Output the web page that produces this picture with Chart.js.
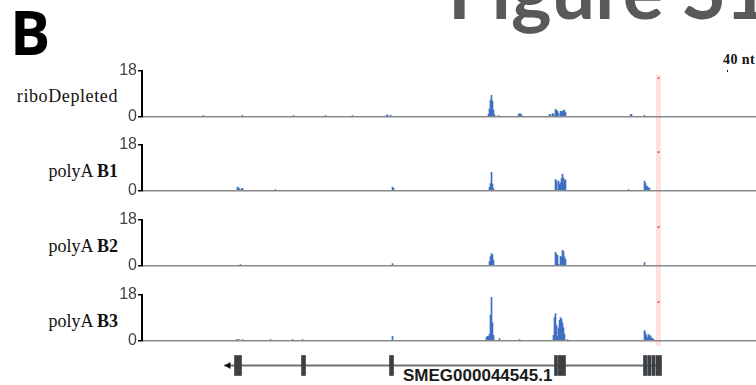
<!DOCTYPE html>
<html>
<head>
<meta charset="utf-8">
<script src="https://cdn.jsdelivr.net/npm/chart.js@4.4.1/dist/chart.umd.min.js"></script>
<style>
  html, body { margin: 0; padding: 0; background: #fff; }
  #fig { position: relative; width: 756px; height: 385px; overflow: hidden; }
  #fig canvas { position: absolute; left: 100px; }
  .t { position: absolute; white-space: nowrap; }
  .lbl { right: 638px; font: 18px 'Liberation Serif', serif; color: #111; line-height: 20px; text-align: right; }
</style>
</head>
<body>
<div id="fig">
  <div class="t" style="left:10px;top:2px;font:700 60px 'Open Sans',sans-serif;line-height:1;color:#000">B</div>
  <div class="t" style="left:448px;top:-49px;font:700 77px 'Lato',sans-serif;line-height:1;color:#58595b">Figure S1</div>
  <div class="t" style="left:723px;top:52px;font:700 14px 'Liberation Serif',serif;line-height:16px;letter-spacing:0.4px;color:#111">40 nt</div>
  <div class="t" style="left:727px;top:70px;width:1px;height:2px;background:#111"></div>
  <div class="t" style="left:403px;top:367px;font:700 17px 'Liberation Sans',sans-serif;line-height:1;color:#1a1a1a">SMEG000044545.1</div>
</div>
<script>
// ── Data (x = position in bins along the locus, y = read coverage) ──────────
const trackNames = ['riboDepleted', 'polyA B1', 'polyA B2', 'polyA B3'];
const yTicks = [0, 18];

const riboDepleted = [
  [61,0.3],[100,0.4],[151,0.2],[183,0.2],[210,0.2],[244,0.4],[245,0.6],[248,0.5],
  [346,0.8],[347,3.0],[348,6.5],[349,8.4],[350,6.0],[351,2.5],[352,0.6],[356,0.3],
  [376,0.6],[377,1.1],[378,1.0],[379,0.5],
  [407,0.7],[408,0.6],[410,1.1],[411,0.9],[413,2.8],[414,2.4],[415,2.0],[416,1.2],
  [418,2.0],[419,1.9],[420,2.0],[421,2.5],[422,2.3],[423,1.5],
  [488,0.6],[489,0.8],[502,0.4],
];
const polyAB1 = [
  [95,1.3],[96,1.0],[97,0.6],[99,0.5],[100,0.8],[133,0.2],[250,1.3],[251,0.8],
  [347,1.2],[348,2.7],[349,7.2],[350,2.5],[351,0.6],
  [413,4.3],[414,3.8],[416,3.7],[417,2.5],[418,3.0],[419,4.8],[420,6.5],[421,5.0],[422,4.0],[423,4.2],
  [486,0.2],[502,3.7],[503,2.8],[504,1.7],[505,1.5],[506,0.9],[507,0.9],
];
const polyAB2 = [
  [98,0.3],[250,0.7],
  [347,1.5],[348,3.5],[349,4.7],[350,4.2],[351,2.0],
  [413,5.3],[414,4.4],[415,4.0],[416,0.5],[418,3.6],[419,3.2],[420,6.0],[421,5.5],[422,3.3],[423,2.4],
  [502,1.1],
];
const polyAB3 = [
  [94,0.3],[96,0.4],[100,0.3],[128,0.2],[150,0.2],[160,0.2],[250,1.6],
  [344,1.2],[345,1.6],[346,1.6],[347,2.5],[348,10.0],[349,17.1],[350,7.0],[351,2.0],
  [357,0.7],[377,0.2],[425,0.2],
  [411,2.0],[412,9.0],[413,10.6],[414,6.0],[415,1.5],[416,5.0],[417,8.0],[418,9.0],[419,8.5],[420,7.0],[421,5.0],[422,2.5],
  [502,3.9],[503,3.0],[504,1.9],[505,1.0],[506,2.4],[507,1.5],[508,1.9],[509,1.0],[510,0.8],[511,0.4],
];
const trackData = [riboDepleted, polyAB1, polyAB2, polyAB3];

// highlighted site and its marker
const highlightRange = [513.5, 518.5];
const markerPos = 516;
const markerVal = 15.2;

// gene model (SMEG000044545.1, minus strand)
const intron = [82, 519];
const exons = [
  [92,99],[159,163],[247,251],[412,415],[415.9,423],
  [501,504.1],[505.1,508.4],[509.4,512.6],[513.6,519],
];
const arrowPos = 86;

// ── Layout / style ─────────────────────────────────────────────────────────
const X_MIN = -0.5, X_MAX = 613.5;
const BLUE = '#3f6fc0';
const trackTops = [49, 123, 198, 273];   // canvas tops; plot area starts 22px lower
const bandSpan  = [[26, 78], [0, 78], [0, 78], [0, 73]];
const labelMid  = [96, 171, 246, 321];

const highlightBand = {
  id: 'highlightBand',
  beforeDraw(chart, args, opts) {
    const { ctx, scales: { x } } = chart;
    const x0 = x.getPixelForValue(opts.range[0]);
    const x1 = x.getPixelForValue(opts.range[1]);
    ctx.save();
    ctx.fillStyle = opts.color;
    ctx.fillRect(x0, opts.top, x1 - x0, opts.bottom - opts.top);
    ctx.restore();
  },
};

const fig = document.getElementById('fig');

function addCanvas(top, height) {
  const c = document.createElement('canvas');
  c.width = 656; c.height = height;
  c.style.width = '656px'; c.style.height = height + 'px';
  c.style.top = top + 'px';
  fig.appendChild(c);
  return c;
}

trackData.forEach((rows, i) => {
  const lbl = document.createElement('div');
  lbl.className = 't lbl';
  lbl.style.top = (labelMid[i] - 10) + 'px';
  const parts = trackNames[i].split(' ');
  lbl.innerHTML = parts.length > 1
    ? `${parts[0]} <b>${parts[1]}</b>`
    : `<span style="letter-spacing:0.6px">${parts[0]}</span>`;
  fig.appendChild(lbl);

  new Chart(addCanvas(trackTops[i], 78), {
    type: 'bar',
    data: {
      datasets: [
        {
          data: rows.map(([x, y]) => ({ x, y })),
          backgroundColor: BLUE,
          borderWidth: 0,
          barThickness: 1,
          order: 2,
        },
        {
          type: 'scatter',
          data: [{ x: markerPos, y: markerVal }],
          pointStyle: 'rect',
          pointRadius: 1.3,
          backgroundColor: '#e8474b',
          borderWidth: 0,
          order: 1,
        },
      ],
    },
    options: {
      responsive: false,
      animation: false,
      devicePixelRatio: 1,
      layout: { autoPadding: false, padding: { top: 22, bottom: 8, left: 0, right: 0 } },
      plugins: {
        legend: { display: false },
        tooltip: { enabled: false },
        highlightBand: { range: highlightRange, color: '#fde1e1', top: bandSpan[i][0], bottom: bandSpan[i][1] },
      },
      scales: {
        x: { type: 'linear', min: X_MIN, max: X_MAX, offset: false, display: false },
        y: {
          min: 0, max: 18,
          afterBuildTicks: s => { s.ticks = yTicks.map(v => ({ value: v })); },
          afterFit: s => { s.width = 42; },
          border: { color: '#000', width: 2 },
          grid: {
            color: c => (c.tick && c.tick.value === 0 ? '#8a8a8a' : 'rgba(0,0,0,0)'),
            lineWidth: 1.5,
            tickColor: '#000',
            tickWidth: 1.5,
            tickLength: 4,
          },
          ticks: { color: '#444', padding: 1, font: { family: 'Liberation Sans', size: 16 } },
        },
      },
    },
    plugins: [highlightBand],
  });
});

// ── Gene model ─────────────────────────────────────────────────────────────
new Chart(addCanvas(345, 41), {
  type: 'bar',
  data: {
    labels: ['gene'],
    datasets: [
      {
        type: 'scatter',
        data: [{ x: arrowPos, y: 'gene' }],
        pointStyle: 'triangle',
        rotation: -90,
        pointRadius: 4,
        backgroundColor: '#111',
        borderWidth: 0,
        order: 1,
      },
      {
        data: exons.map(e => ({ x: e, y: 'gene' })),
        backgroundColor: '#3b4045',
        borderWidth: 0,
        barThickness: 20,
        grouped: false,
        order: 2,
      },
      {
        data: [{ x: intron, y: 'gene' }],
        backgroundColor: '#707070',
        borderWidth: 0,
        barThickness: 1.5,
        grouped: false,
        order: 3,
      },
    ],
  },
  options: {
    indexAxis: 'y',
    responsive: false,
    animation: false,
    devicePixelRatio: 1,
    layout: { autoPadding: false, padding: { top: 0, bottom: 0, left: 42, right: 0 } },
    plugins: { legend: { display: false }, tooltip: { enabled: false } },
    scales: {
      x: { type: 'linear', min: X_MIN, max: X_MAX, offset: false, display: false },
      y: { type: 'category', display: false },
    },
  },
});
</script>
</body>
</html>
